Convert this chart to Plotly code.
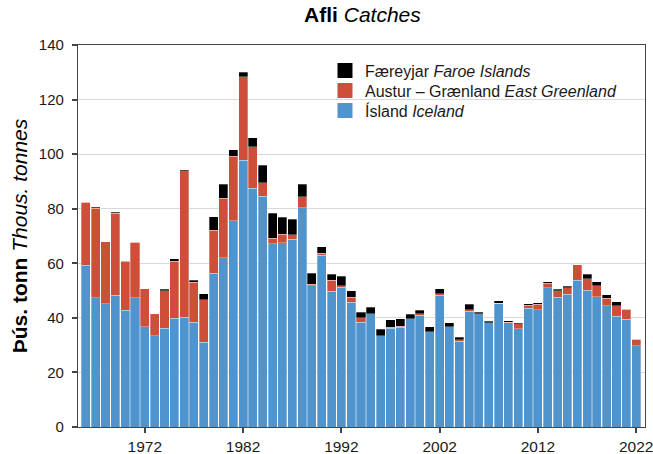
import plotly.graph_objects as go

years = list(range(1966, 2023))

iceland = [59.2, 47.3, 45.1, 48.2, 42.7, 47.3, 36.8, 33.5, 36.2, 39.9,
           40.3, 38.4, 31.1, 56.4, 62.0, 75.6, 97.8, 87.5, 84.5, 67.1,
           67.6, 68.8, 80.4, 51.7, 62.9, 49.7, 51.2, 45.7, 38.4, 41.5,
           33.5, 36.2, 36.6, 39.7, 40.9, 35.0, 48.3, 36.7, 31.5, 42.4,
           41.5, 38.2, 45.3, 38.2, 36.1, 43.5, 42.9, 51.0, 47.5, 48.6,
           53.8, 50.1, 47.7, 44.5, 40.5, 39.4, 29.8]

east_greenland = [23.1, 32.9, 22.8, 30.2, 18.0, 20.4, 13.9, 8.0, 13.8, 20.8,
                  53.7, 14.7, 15.5, 15.8, 21.9, 23.7, 30.5, 15.3, 5.0, 2.1,
                  3.0, 1.6, 4.0, 0.6, 0.8, 4.1, 0.6, 1.9, 1.7, 0.0,
                  0.0, 0.4, 0.4, 0.0, 0.6, 0.0, 0.5, 0.1, 0.5, 0.5,
                  0.0, 0.0, 0.0, 0.2, 1.7, 1.1, 2.0, 1.7, 2.5, 2.5,
                  5.6, 4.3, 4.1, 2.7, 4.0, 3.7, 2.3]

faroe = [0.0, 0.3, 0.0, 0.3, 0.2, 0.0, 0.0, 0.0, 0.5, 1.0,
         0.2, 0.6, 2.2, 4.9, 5.1, 2.4, 1.8, 3.3, 6.4, 9.1,
         6.2, 5.8, 4.6, 4.1, 2.4, 2.1, 3.5, 2.4, 2.0, 2.4,
         2.3, 2.7, 2.7, 1.6, 1.2, 1.7, 1.8, 1.5, 0.9, 2.1,
         0.6, 0.6, 0.9, 0.5, 0.4, 0.5, 0.6, 0.6, 0.4, 0.4,
         0.0, 1.5, 1.4, 1.2, 1.4, 0.0, 0.0]

series_names = ["Ísland <i>Iceland</i>",
                "Austur – Grænland <i>East Greenland</i>",
                "Færeyjar <i>Faroe Islands</i>"]

x_ticks = [1972, 1982, 1992, 2002, 2012, 2022]
y_ticks = [0, 20, 40, 60, 80, 100, 120, 140]

BLUE = "#4F94CD"
RED = "#CD4F39"
BLACK = "#000000"
FONT = "Liberation Sans, Arial, sans-serif"

series = [iceland, east_greenland, faroe]
colors = [BLUE, RED, BLACK]
legend_ids = ["legend3", "legend2", "legend"]

W, H = 653, 454
ML, MR, MT, MB = 78, 8, 45, 27
PLOT_H = H - MT - MB

fig = go.Figure()
for vals, col, name in zip(series, colors, series_names):
    fig.add_trace(go.Bar(x=years, y=vals, name=name, showlegend=False,
                         marker=dict(color=col, line=dict(color="rgba(255,255,255,0.6)", width=0.5))))
# legend entries (square keys)
for col, name, lg in zip(colors, series_names, legend_ids):
    fig.add_trace(go.Scatter(x=[None], y=[None], mode="markers", name=name, legend=lg,
                             marker=dict(symbol="square", size=15, color=col, line=dict(width=0))))

leg_common = dict(x=0.4356, xanchor="left", yanchor="top", bgcolor="rgba(255,255,255,0)",
                  font=dict(size=16, color="#1a1a1a"), itemclick=False, itemsizing="trace")
row_tops = [53.5, 73.5, 93.5]  # px tops for Færeyjar, Austur-Grænland, Ísland rows

def ypaper(px):
    return 1 - (px - MT) / PLOT_H

fig.update_layout(
    width=W, height=H,
    barmode="stack", bargap=0.08,
    plot_bgcolor="white", paper_bgcolor="white",
    margin=dict(l=ML, r=MR, t=MT, b=MB),
    font=dict(family=FONT, size=15, color="#1a1a1a"),
    title=dict(text="<b>Afli</b> <i>Catches</i>", x=0.555, xanchor="center",
               y=0.9685, yanchor="middle", font=dict(size=21, color="black")),
    legend=dict(y=ypaper(row_tops[0]), **leg_common),
    legend2=dict(y=ypaper(row_tops[1]), **leg_common),
    legend3=dict(y=ypaper(row_tops[2]), **leg_common),
    showlegend=True,
)
fig.update_xaxes(range=[1965.2, 2022.9], tickvals=x_ticks, ticks="outside", ticklen=5,
                 tickcolor="#444", tickwidth=1.5, showline=True, linecolor="#444", linewidth=1.2,
                 mirror=True, showgrid=False, zeroline=False, automargin=False,
                 ticklabeloverflow="allow", tickfont=dict(size=15.5, color="#1a1a1a"))
fig.update_yaxes(range=[0, 140], tickvals=y_ticks, ticks="outside", ticklen=5,
                 tickcolor="#444", tickwidth=1.5, showline=True, linecolor="#444", linewidth=1.2,
                 mirror=True, showgrid=True, gridcolor="#d9d9d9", gridwidth=1, zeroline=False,
                 automargin=False, ticklabelstandoff=5, tickfont=dict(size=15, color="#1a1a1a"),
                 title=dict(text="<b>Þús. tonn</b> <i>Thous. tonnes</i>", font=dict(size=21, color="black"),
                            standoff=5))

fig.write_html("out.html",
               config={"displayModeBar": False},
               post_script="document.body.style.margin='0';document.body.style.overflow='hidden';")
